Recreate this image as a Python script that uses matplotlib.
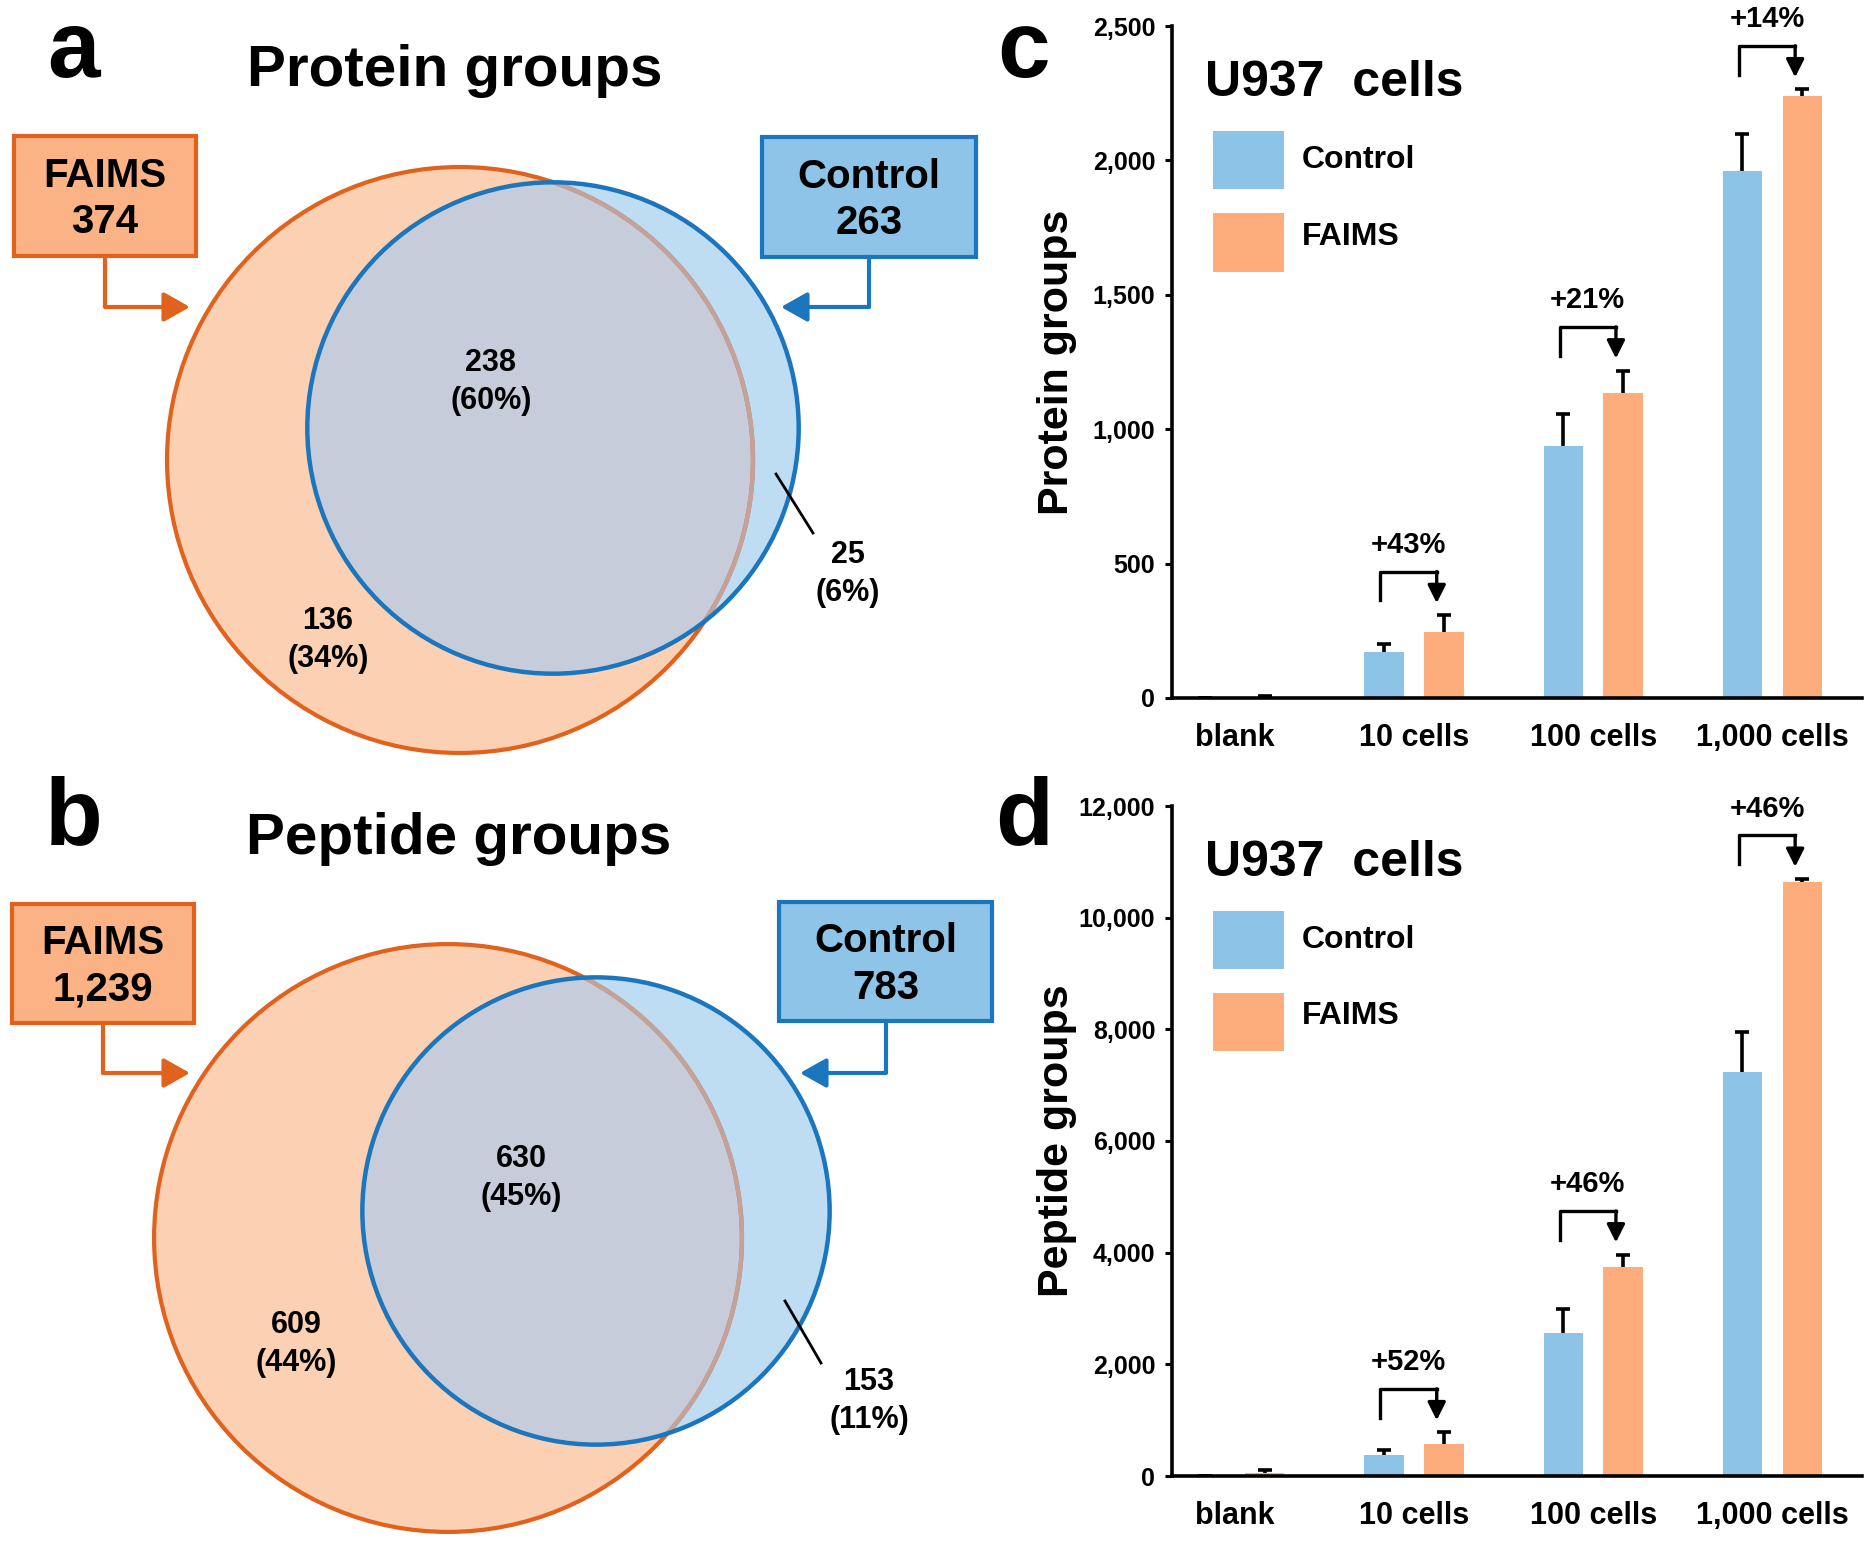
import numpy as np
import matplotlib
matplotlib.use('Agg')
import matplotlib.pyplot as plt
from matplotlib.patches import Circle, Rectangle

plt.rcParams['font.family'] = ['Liberation Sans', 'DejaVu Sans']
plt.rcParams['font.weight'] = 'bold'
plt.rcParams['axes.labelweight'] = 'bold'

# Venn data (a: protein groups, b: peptide groups)
venn_titles = ['Protein groups', 'Peptide groups']
faims_totals = [374, 1239]
control_totals = [263, 783]
faims_only = [136, 609]
shared = [238, 630]
control_only = [25, 153]
faims_only_pct = [34, 44]
shared_pct = [60, 45]
control_only_pct = [6, 11]

# bar data (c: protein groups, d: peptide groups)
categories = ['blank', '10 cells', '100 cells', '1,000 cells']
series_names = ['Control', 'FAIMS']
protein_control = [0, 170, 938, 1960]
protein_control_err = [0, 30, 120, 140]
protein_faims = [5, 246, 1136, 2238]
protein_faims_err = [3, 62, 82, 26]
protein_gain = ['', '+43%', '+21%', '+14%']
peptide_control = [0, 382, 2570, 7240]
peptide_control_err = [0, 90, 430, 720]
peptide_faims = [60, 582, 3750, 10634]
peptide_faims_err = [40, 200, 217, 60]
peptide_gain = ['', '+52%', '+46%', '+46%']

# colours
c_bar_ctrl = '#8DC3E6'
c_bar_faims = '#FDAD7C'
c_peach = '#FCD0B3'
c_lightblue = '#BEDDF2'
c_overlap = '#C6CCD9'
c_brown = '#C2A29B'
c_orange = '#E0621C'
c_blue = '#1B76BD'
c_box_faims = '#FBB385'
c_box_ctrl = '#8EC4E7'

fig = plt.figure(figsize=(18.66, 15.42), dpi=100)

# overlay axes in pixel units for the venn panels and panel letters
ov = fig.add_axes([0, 0, 1, 1])
ov.set_xlim(0, 1866)
ov.set_ylim(1542, 0)
ov.axis('off')

# layout of each venn panel, in pixels
venn_layout = [
    dict(orange_c=(460, 460), blue_c=(553, 428), k=15.15, title=(455, 71), letter=(74, 52),
         fbox=(14, 136, 182, 120), cbox=(762, 137, 214, 120), arrow_y=307, f_tip=190, c_tip=781,
         shared_xy=(491, 382), fonly_xy=(328, 640), conly_xy=(848, 574), leader=((776, 474), (813, 533))),
    dict(orange_c=(448, 1238), blue_c=(596, 1211), k=8.35, title=(459, 839), letter=(74, 820),
         fbox=(12, 904, 182, 119), cbox=(779, 902, 213, 119), arrow_y=1073, f_tip=190, c_tip=800,
         shared_xy=(521, 1178), fonly_xy=(296, 1344), conly_xy=(869, 1401), leader=((785, 1301), (821, 1363))),
]

for i, L in enumerate(venn_layout):
    r_f = L['k'] * np.sqrt(faims_totals[i])
    r_c = L['k'] * np.sqrt(control_totals[i])
    orange = Circle(L['orange_c'], r_f, fc=c_peach, ec='none', zorder=1)
    ov.add_patch(orange)
    ov.add_patch(Circle(L['blue_c'], r_c, fc=c_lightblue, ec='none', zorder=2))
    mid = Circle(L['blue_c'], r_c, fc=c_overlap, ec='none', zorder=3)
    ov.add_patch(mid)
    mid.set_clip_path(orange)
    ov.add_patch(Circle(L['orange_c'], r_f, fc='none', ec=c_orange, lw=3, zorder=4))
    blue_clip = Circle(L['blue_c'], r_c, fc='none', ec='none')
    ov.add_patch(blue_clip)
    inner = Circle(L['orange_c'], r_f, fc='none', ec=c_brown, lw=3.2, zorder=5)
    ov.add_patch(inner)
    inner.set_clip_path(blue_clip)
    ov.add_patch(Circle(L['blue_c'], r_c, fc='none', ec=c_blue, lw=3.2, zorder=6))

    ov.text(*L['title'], venn_titles[i], fontsize=42, ha='center', va='center')
    ov.text(*L['letter'], 'ab'[i], fontsize=68, ha='center', va='center')

    # boxes with totals
    x, y, w, h = L['fbox']
    ov.add_patch(Rectangle((x, y), w, h, fc=c_box_faims, ec=c_orange, lw=3, zorder=7))
    ov.text(x + w / 2, y + h * 0.33, 'FAIMS', fontsize=29, ha='center', va='center', zorder=8)
    ov.text(x + w / 2, y + h * 0.72, f'{faims_totals[i]:,}', fontsize=29, ha='center', va='center', zorder=8)
    fx = x + w / 2
    ov.plot([fx, fx, L['f_tip'] - 20], [y + h, L['arrow_y'], L['arrow_y']], color=c_orange, lw=3, zorder=7)
    ov.annotate('', xy=(L['f_tip'], L['arrow_y']), xytext=(L['f_tip'] - 25, L['arrow_y']),
                arrowprops=dict(arrowstyle='-|>,head_length=0.8,head_width=0.45', color=c_orange,
                                lw=3, mutation_scale=20, shrinkA=0, shrinkB=0), zorder=7)

    x, y, w, h = L['cbox']
    ov.add_patch(Rectangle((x, y), w, h, fc=c_box_ctrl, ec=c_blue, lw=3, zorder=7))
    ov.text(x + w / 2, y + h * 0.33, 'Control', fontsize=29, ha='center', va='center', zorder=8)
    ov.text(x + w / 2, y + h * 0.72, f'{control_totals[i]:,}', fontsize=29, ha='center', va='center', zorder=8)
    cx = x + w / 2
    ov.plot([cx, cx, L['c_tip'] + 20], [y + h, L['arrow_y'], L['arrow_y']], color=c_blue, lw=3, zorder=7)
    ov.annotate('', xy=(L['c_tip'], L['arrow_y']), xytext=(L['c_tip'] + 25, L['arrow_y']),
                arrowprops=dict(arrowstyle='-|>,head_length=0.8,head_width=0.45', color=c_blue,
                                lw=3, mutation_scale=20, shrinkA=0, shrinkB=0), zorder=7)

    # region counts
    ov.text(*L['shared_xy'], f'{shared[i]}\n({shared_pct[i]}%)', fontsize=22, ha='center', va='center',
            linespacing=1.35, zorder=9)
    ov.text(*L['fonly_xy'], f'{faims_only[i]}\n({faims_only_pct[i]}%)', fontsize=22, ha='center', va='center',
            linespacing=1.35, zorder=9)
    ov.text(*L['conly_xy'], f'{control_only[i]}\n({control_only_pct[i]}%)', fontsize=22, ha='center',
            va='center', linespacing=1.35, zorder=9)
    (x0, y0), (x1, y1) = L['leader']
    ov.plot([x0, x1], [y0, y1], color='k', lw=2, zorder=9)

ov.text(1024, 52, 'c', fontsize=68, ha='center', va='center')
ov.text(1024, 820, 'd', fontsize=68, ha='center', va='center')


def bar_panel(ax, ctrl, ctrl_err, faims, faims_err, gains, ymax, step, ylabel):
    x = np.arange(len(categories))
    off, w = 0.167, 0.22
    colors = [c_bar_ctrl, c_bar_faims]
    for k, (vals, errs) in enumerate([(ctrl, ctrl_err), (faims, faims_err)]):
        xs = x - off if k == 0 else x + off
        ax.bar(xs, vals, w, color=colors[k], zorder=3)
        # full error bar drawn behind the bar so only the upper half shows
        ax.errorbar(xs, vals, yerr=errs, fmt='none', ecolor='k', elinewidth=2.6,
                    capsize=5, capthick=2.6, zorder=2)
    ax.set_xlim(-0.35, 3.5)
    ax.set_ylim(0, ymax)
    ax.set_yticks(np.arange(0, ymax + 1, step))
    ax.set_yticklabels([f'{v:,}' for v in np.arange(0, ymax + 1, step)], fontsize=18)
    ax.set_xticks(x)
    ax.set_xticklabels(categories, fontsize=22)
    ax.tick_params(axis='x', length=0, pad=18)
    ax.tick_params(axis='y', direction='out', length=5, width=2.2, pad=7)
    for s in ['top', 'right']:
        ax.spines[s].set_visible(False)
    for s in ['left', 'bottom']:
        ax.spines[s].set_linewidth(2.6)
        ax.spines[s].set_zorder(4)
    ax.set_ylabel(ylabel, fontsize=31)
    ax.yaxis.set_label_coords(-0.138, 0.5)
    ax.text(0.048, 0.915, 'U937  cells', transform=ax.transAxes, fontsize=36, ha='left', va='center')

    # legend patches
    for k, (py, ty) in enumerate([(0.757, 0.800), (0.634, 0.686)]):
        ax.add_patch(Rectangle((0.059, py), 0.104, 0.087, transform=ax.transAxes,
                               fc=colors[k], ec='none', clip_on=False))
        ax.text(0.188, ty, series_names[k], transform=ax.transAxes, fontsize=23,
                ha='left', va='center')

    # gain brackets
    for j in range(1, len(categories)):
        top = max(ctrl[j] + ctrl_err[j], faims[j] + faims_err[j]) + 0.065 * ymax
        x1 = j - off - 0.02
        x2 = j + off - 0.04
        ax.plot([x1, x1, x2], [top - 0.043 * ymax, top, top], color='k', lw=2.4, clip_on=False)
        ax.annotate('', xy=(x2, top - 0.047 * ymax), xytext=(x2, top),
                    arrowprops=dict(arrowstyle='-|>,head_length=0.6,head_width=0.3', color='k',
                                    lw=2.4, mutation_scale=18, shrinkA=0, shrinkB=0),
                    annotation_clip=False)
        ax.text((x1 + x2) / 2, top + 0.04 * ymax, gains[j], fontsize=21, ha='center', va='center',
                clip_on=False)


ax_c = fig.add_axes([1172 / 1866, 1 - 698 / 1542, 690 / 1866, 672 / 1542])
bar_panel(ax_c, protein_control, protein_control_err, protein_faims, protein_faims_err,
          protein_gain, 2500, 500, 'Protein groups')

ax_d = fig.add_axes([1172 / 1866, 1 - 1476 / 1542, 690 / 1866, 670 / 1542])
bar_panel(ax_d, peptide_control, peptide_control_err, peptide_faims, peptide_faims_err,
          peptide_gain, 12000, 2000, 'Peptide groups')

fig.savefig('out.png', dpi=100)
